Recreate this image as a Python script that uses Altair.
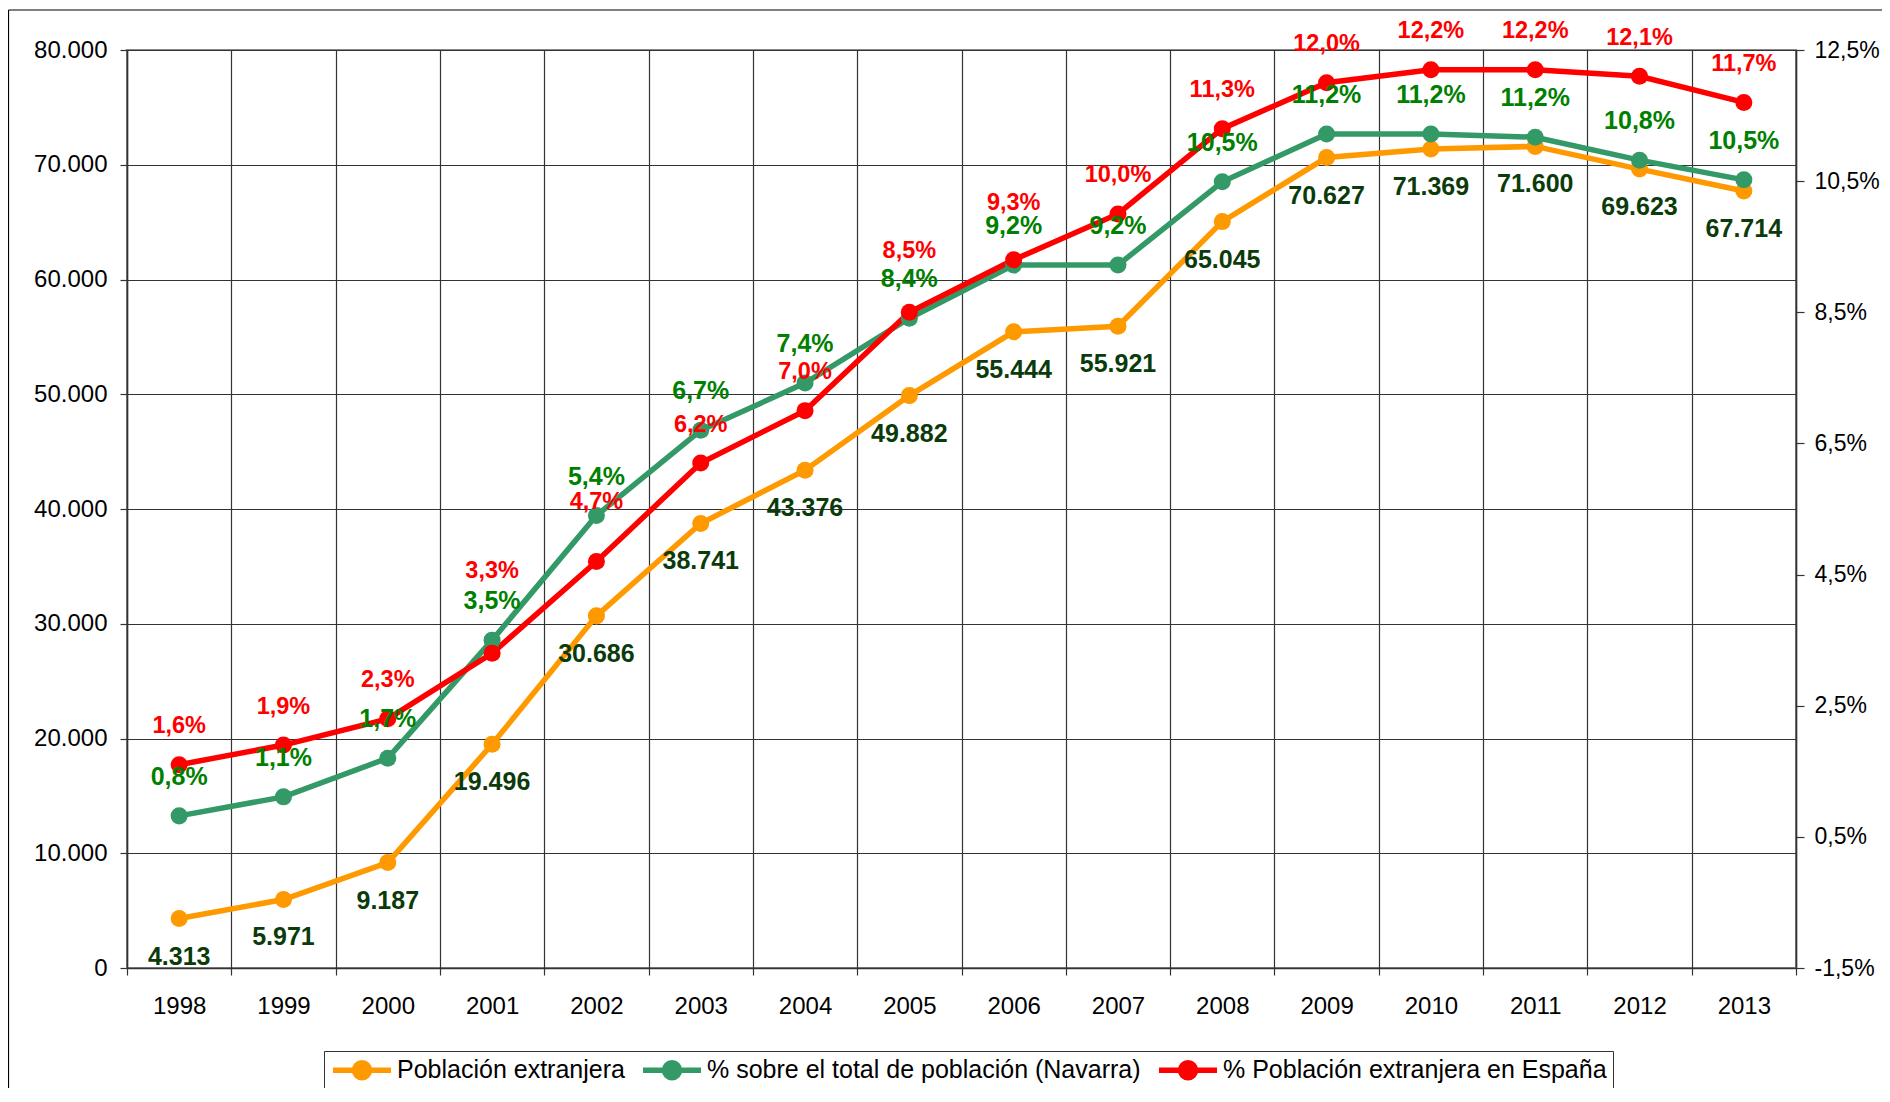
import altair as alt
import pandas as pd

# ---------------- data ----------------
years = [1998, 1999, 2000, 2001, 2002, 2003, 2004, 2005,
         2006, 2007, 2008, 2009, 2010, 2011, 2012, 2013]
poblacion = [4313, 5971, 9187, 19496, 30686, 38741, 43376, 49882,
             55444, 55921, 65045, 70627, 71369, 71600, 69623, 67714]
pct_navarra = [0.82, 1.11, 1.70, 3.50, 5.40, 6.70, 7.42, 8.41,
               9.22, 9.22, 10.49, 11.22, 11.22, 11.17, 10.82, 10.52]
pct_espana = [1.6, 1.9, 2.3, 3.3, 4.7, 6.2, 7.0, 8.5,
              9.3, 10.0, 11.3, 12.0, 12.2, 12.2, 12.1, 11.7]
series_names = ["Población extranjera",
                "% sobre el total de población (Navarra)",
                "% Población extranjera en España"]
series_colors = ["#FF9900", "#339966", "#FF0000"]
left_ticks = [0, 10000, 20000, 30000, 40000, 50000, 60000, 70000, 80000]
right_ticks = [-1.5, 0.5, 2.5, 4.5, 6.5, 8.5, 10.5, 12.5]


def fmt_int(v):
    return f"{v:,}".replace(",", ".")


def fmt_pct(v):
    return f"{v:.1f}".replace(".", ",") + "%"


pob_df = pd.DataFrame({"year": years, "value": poblacion,
                       "series": series_names[0],
                       "label": [fmt_int(v) for v in poblacion]})
nav_df = pd.DataFrame({"year": years, "value": pct_navarra,
                       "series": series_names[1],
                       "label": [fmt_pct(v) for v in pct_navarra]})
esp_df = pd.DataFrame({"year": years, "value": pct_espana,
                       "series": series_names[2],
                       "label": [fmt_pct(v) for v in pct_espana]})
pct_df = pd.concat([nav_df, esp_df], ignore_index=True)
frame_df = pd.DataFrame({"k": [0]})

# ---------------- style / layout ----------------
FONT = "Liberation Sans"
W, H = 1669, 918
GRID = "#333333"

# legend symbol: line with a filled dot (concentric rings so it looks filled)
LEG_SYMBOL = ("M-1,0H4.8"
              "M1.9,-0.75A0.75,0.75,0,1,1,1.9,0.75A0.75,0.75,0,1,1,1.9,-0.75"
              "M1.9,-0.3A0.3,0.3,0,1,1,1.9,0.3A0.3,0.3,0,1,1,1.9,-0.3")

x_enc = alt.X(
    "year:O",
    scale=alt.Scale(type="band", paddingInner=0, paddingOuter=0),
    bandPosition=0.5,
    axis=alt.Axis(title=None, tickBand="extent", grid=True, gridColor=GRID,
                  gridWidth=1.2, tickSize=7, tickColor=GRID, tickWidth=1.2,
                  labelPadding=19, labelFontSize=24, labelFont=FONT,
                  labelColor="black", labelAngle=0, domainColor=GRID,
                  domainWidth=1.5),
)

y_left = alt.Y(
    "value:Q",
    scale=alt.Scale(domain=[0, 80000], nice=False, zero=False),
    axis=alt.Axis(orient="left", title=None, values=left_ticks,
                  labelExpr="replace(format(datum.value, ',.0f'), ',', '.')",
                  grid=True, gridColor=GRID, gridWidth=1.2, tickSize=7,
                  tickColor=GRID, tickWidth=1.2, labelPadding=13,
                  labelFontSize=24, labelFont=FONT, labelColor="black",
                  domainColor=GRID, domainWidth=1.5),
)

y_right = alt.Y(
    "value:Q",
    scale=alt.Scale(domain=[-1.5, 12.5], nice=False, zero=False),
    axis=alt.Axis(orient="right", title=None, values=right_ticks,
                  labelExpr="replace('' + datum.value, '.', ',') + '%'",
                  grid=False, tickSize=8, tickColor=GRID, tickWidth=1.2,
                  labelPadding=10, labelFontSize=23, labelFont=FONT,
                  labelColor="black", domainColor=GRID, domainWidth=1.5),
)

color_enc = alt.Color(
    "series:N",
    scale=alt.Scale(domain=series_names, range=series_colors),
    legend=alt.Legend(orient="none", legendX=197, legendY=1001,
                      direction="horizontal", columns=3, title=None,
                      labelFont=FONT, labelFontSize=25, labelColor="black",
                      labelLimit=0, symbolType=LEG_SYMBOL, symbolSize=400,
                      symbolStrokeWidth=5.5, symbolOpacity=1,
                      labelOffset=41, columnPadding=7, padding=6,
                      strokeColor="#333333", fillColor="white"),
)

point_def = alt.OverlayMarkDef(filled=True, size=290, opacity=1)

# frame around the whole figure (top and left edges visible)
frame_top = alt.Chart(frame_df).mark_rule(color="black", strokeWidth=1.2).encode(
    x=alt.value(-118.5), x2=alt.value(1800), y=alt.value(-40))
frame_left = alt.Chart(frame_df).mark_rule(color="black", strokeWidth=1.2).encode(
    x=alt.value(-118.5), y=alt.value(-40), y2=alt.value(1100))

orange_line = alt.Chart(pob_df).mark_line(
    strokeWidth=5.5, point=point_def).encode(x=x_enc, y=y_left, color=color_enc)
orange_text = alt.Chart(pob_df).mark_text(
    dy=38, fontSize=25, fontWeight="bold", font=FONT, color="#0B3B0B",
    baseline="middle").encode(x=x_enc, y=y_left, text="label:N")

left_group = alt.layer(frame_top, frame_left, orange_line, orange_text)

pct_line = alt.Chart(pct_df).mark_line(
    strokeWidth=5.5, point=point_def).encode(x=x_enc, y=y_right, color=color_enc)
green_text = alt.Chart(nav_df).mark_text(
    dy=-39, fontSize=25, fontWeight="bold", font=FONT, color="#008000",
    baseline="middle").encode(x=x_enc, y=y_right, text="label:N")

# vertical placement of the red labels (Excel moved a few of them up)
red_default_dy = -38.5
red_lift = {2001: -82, 2002: -59, 2005: -61, 2006: -57}
red_layers = []
plain_years = [y for y in years if y not in red_lift]
red_layers.append(
    alt.Chart(esp_df).transform_filter(
        alt.FieldOneOfPredicate(field="year", oneOf=plain_years)
    ).mark_text(dy=red_default_dy, fontSize=23.5, fontWeight="bold", font=FONT,
                color="#FF0000", baseline="middle").encode(
        x=x_enc, y=y_right, text="label:N"))
for yr, dy in red_lift.items():
    red_layers.append(
        alt.Chart(esp_df).transform_filter(
            alt.FieldEqualPredicate(field="year", equal=yr)
        ).mark_text(dy=dy, fontSize=23.5, fontWeight="bold", font=FONT,
                    color="#FF0000", baseline="middle").encode(
            x=x_enc, y=y_right, text="label:N"))

right_group = alt.layer(pct_line, green_text, *red_layers)

chart = alt.layer(left_group, right_group).resolve_scale(
    y="independent"
).properties(
    width=W, height=H,
    autosize=alt.AutoSizeParams(type="none"),
    padding={"left": 119, "top": 42, "right": 86, "bottom": 120},
    background="white",
).configure_view(
    stroke="#888888", strokeWidth=2
)

chart.save("out.html", embed_options={"renderer": "svg", "actions": False})
